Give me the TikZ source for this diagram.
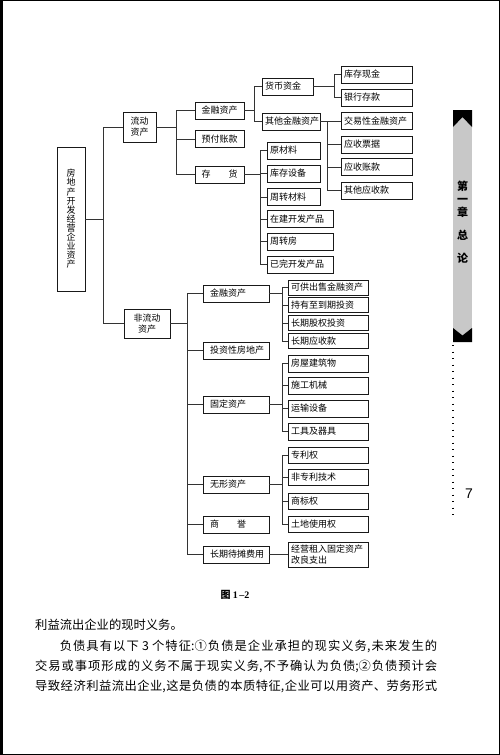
\documentclass[tikz,border=0pt]{standalone}
\usepackage{fontspec}
\setmainfont{Noto Sans CJK SC}
\newfontfamily\lat{Liberation Serif}
\newfontfamily\numfont{Liberation Sans}
\definecolor{tabgray}{HTML}{C8C8C8}
\tikzset{box/.style={draw=black!90,line width=0.9pt,fill=white,inner ysep=0pt,minimum height=17pt,font=\fontsize{9}{11}\selectfont},lbox/.style={box,align=left,inner xsep=3pt,text width=#1},cbox/.style={box,align=center,inner xsep=2pt,text width=#1},mid/.style={lbox=52pt,inner xsep=7pt},leaf/.style={lbox=74pt,minimum height=15pt},line/.style={draw=black!80,line width=0.6pt}}

\begin{document}
\begin{tikzpicture}[x=1pt,y=-1pt]
\useasboundingbox (0,0) rectangle (500,755);
\fill[white] (0,0) rectangle (500,755);
% tree, upper part
\node[cbox=24pt,minimum height=144pt,font=\fontsize{9}{9.1}\selectfont] (root) at (71,219) {房\\地\\产\\开\\发\\经\\营\\企\\业\\资\\产};
\node[cbox=29pt,minimum height=30pt] (ld) at (139.5,127) {流动\\资产};
\node[cbox=45pt] (jr) at (219.5,110.5) {金融资产};
\node[cbox=45pt] (yf) at (219.5,139) {预付账款};
\node[cbox=45pt] (ch) at (219.5,174.5) {存\hspace{2em}货};
\node[lbox=45pt] (hb) at (287.5,86.5) {货币资金};
\node[lbox=52pt] (qt) at (291,121.5) {其他金融资产};
\node[lbox=65pt] (kc) at (376.5,74.5) {库存现金};
\node[lbox=65pt] (yh) at (376.5,97.5) {银行存款};
\node[lbox=65pt] (jy) at (376.5,121) {交易性金融资产};
\node[lbox=65pt] (pj) at (376.5,144.5) {应收票据};
\node[lbox=65pt] (zk) at (376.5,167) {应收账款};
\node[lbox=65pt] (qy) at (376.5,190.5) {其他应收款};
\node[lbox=47pt] (ycl) at (293.5,150.5) {原材料};
\node[lbox=47pt] (kcsb) at (293.5,173.5) {库存设备};
\node[lbox=47pt] (zzcl) at (293.5,197) {周转材料};
\node[lbox=60pt] (zj) at (300,219) {在建开发产品};
\node[lbox=60pt] (zzf) at (300,241.5) {周转房};
\node[lbox=60pt] (ywc) at (300,264.5) {已完开发产品};
% tree, lower part
\node[cbox=42pt,minimum height=29pt] (fld) at (147,323.5) {非流动\\资产};
\node[mid] (jr2) at (236,293.5) {金融资产};
\node[mid] (tz) at (236,350.5) {投资性房地产};
\node[mid] (gd) at (236,404.5) {固定资产};
\node[mid] (wx) at (236,484.5) {无形资产};
\node[mid] (sy) at (236,524.5) {商\hspace{2em}誉};
\node[mid] (dt) at (236,554.5) {长期待摊费用};
\node[leaf] (kg) at (328,287.5) {可供出售金融资产};
\node[leaf] (cy) at (328,305) {持有至到期投资};
\node[leaf] (gq) at (328,323) {长期股权投资};
\node[leaf] (ys) at (328,341) {长期应收款};
\node[leaf,minimum height=17pt] (fw) at (328,363.5) {房屋建筑物};
\node[leaf,minimum height=17pt] (sg) at (328,385.5) {施工机械};
\node[leaf,minimum height=17pt] (ysb) at (328,408.5) {运输设备};
\node[leaf,minimum height=17pt] (gj) at (328,431.5) {工具及器具};
\node[leaf,minimum height=16pt] (zl) at (328,455) {专利权};
\node[leaf,minimum height=16pt] (fzl) at (328,477.5) {非专利技术};
\node[leaf,minimum height=16pt] (sb) at (328,501) {商标权};
\node[leaf,minimum height=16pt] (td) at (328,524) {土地使用权};
\node[leaf,minimum height=25pt,font=\fontsize{9}{10.5}\selectfont] (gz) at (328,554.5) {经营租入固定资产\\改良支出};
% buses
\coordinate (t0) at (103,0);
\coordinate (b1) at (176,0);
\coordinate (b2) at (254,0);
\coordinate (b3) at (334,0);
\coordinate (b4) at (327,0);
\coordinate (b5) at (260,0);
\coordinate (b6) at (187,0);
\coordinate (b7) at (282,0);
\foreach \p/\b/\kids in {root/t0/{ld,fld}, ld/b1/{jr,yf,ch}, jr/b2/{hb,qt}, hb/b3/{kc,yh}, qt/b4/{jy,pj,zk,qy}, ch/b5/{ycl,kcsb,zzcl,zj,zzf,ywc}, fld/b6/{jr2,tz,gd,wx,sy,dt}, jr2/b7/{kg,cy,gq,ys}, gd/b7/{fw,sg,ysb,gj}, wx/b7/{zl,fzl,sb,td}, dt/b7/{gz}}{
  \draw[line] (\p.east) -- (\b |- \p);
  \foreach \k in \kids {\draw[line] (\b |- \p) -- (\b |- \k) -- (\k.west);}
}
% caption and text
\node (cap) at (235,595) {\fontsize{10}{12}\selectfont\bfseries 图 {\lat\bfseries 1\,–2}};
\node[anchor=north west,inner sep=0pt,text width=402pt,align=justify,font=\fontsize{12.3}{20.4}\selectfont] (body) at (35,619) {\XeTeXlinebreaklocale "zh"\XeTeXlinebreakskip=0pt plus 3pt
利益流出企业的现时义务。\par
\hspace*{2em}负债具有以下 3 个特征:①负债是企业承担的现实义务,未来发生的\linebreak
交易或事项形成的义务不属于现实义务,不予确认为负债;②负债预计会\linebreak
导致经济利益流出企业,这是负债的本质特征,企业可以用资产、劳务形式{\parfillskip=0pt\par}};
% side tab
\fill[tabgray] (453,110) rectangle (472,342);
\fill[black] (453,110) -- (472,110) -- (472,127) -- (462.5,117) -- (453,127) -- cycle;
\fill[black] (453,328) -- (462.5,335.5) -- (472,328) -- (472,342) -- (453,342) -- cycle;
\node[align=center,inner sep=0pt,font=\fontsize{11}{13}\selectfont\bfseries] (tab) at (462.5,222) {第\\一\\章\\[10pt]总\\[10pt]论};
\draw[line width=1.1pt,dash pattern=on 1.1pt off 5.4pt] (453,345) -- (453,517);
\node (pg) at (469,494) {\numfont\fontsize{14}{14}\selectfont 7};
% page frame
\draw[line width=2.5pt] (0,0) rectangle (500,755);
\draw[line width=5pt] (0,0) -- (0,755);
\end{tikzpicture}
\end{document}
